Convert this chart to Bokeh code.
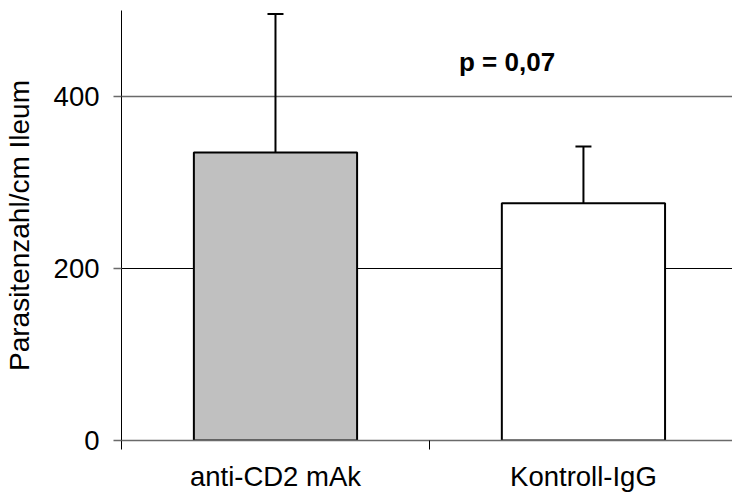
from bokeh.plotting import figure
from bokeh.models import (Range1d, FixedTicker, Grid, Label, Whisker, TeeHead,
                          ColumnDataSource, LinearAxis)
from bokeh.embed import file_html
from bokeh.resources import INLINE

categories = ["anti-CD2 mAk", "Kontroll-IgG"]
means = [335, 276]
sd_upper = [161, 66]
fills = ["#C0C0C0", "#FFFFFF"]
y_ticks = [0, 200, 400]
p_text = "p = 0,07"

xs = [i + 0.5 for i in range(len(categories))]
src = ColumnDataSource(dict(x=xs, top=means, upper=[m + s for m, s in zip(means, sd_upper)],
                            fill=fills))

FONT = "Liberation Sans"

p = figure(width=732, height=494, output_backend="svg", toolbar_location=None,
           x_range=Range1d(0, 1.984), y_range=Range1d(0, 500),
           min_border_left=120, min_border_right=0, min_border_top=10, min_border_bottom=54,
           x_axis_type=None, y_axis_type=None)
p.outline_line_color = None
p.xgrid.visible = False
p.ygrid.visible = False

# grid lines (200 dark, 400 grey)
g200 = Grid(dimension=1, ticker=FixedTicker(ticks=[y_ticks[1]]), grid_line_color="black", grid_line_width=1)
g400 = Grid(dimension=1, ticker=FixedTicker(ticks=[y_ticks[2]]), grid_line_color="#6a6a6a", grid_line_width=1.5)
p.add_layout(g200)
p.add_layout(g400)

# y axis
yax = LinearAxis(ticker=FixedTicker(ticks=y_ticks))
yax.axis_line_color = "black"
yax.axis_line_width = 1
yax.major_tick_out = 8
yax.major_tick_in = 0
yax.major_tick_line_color = "#6a6a6a"
yax.major_tick_line_width = 1.5
yax.minor_tick_line_color = None
yax.major_label_standoff = 14
yax.major_label_text_font = FONT
yax.major_label_text_font_size = "27.5px"
yax.major_label_text_color = "black"
yax.axis_label = "Parasitenzahl/cm Ileum"
yax.axis_label_text_font = FONT
yax.axis_label_text_font_size = "28px"
yax.axis_label_text_font_style = "normal"
yax.axis_label_text_color = "black"
yax.axis_label_standoff = 16
p.add_layout(yax, "left")

# x axis: labels at category centres, tick marks at category boundaries
xax = LinearAxis(ticker=FixedTicker(ticks=xs, minor_ticks=[0, 1, 2]))
xax.major_label_overrides = {x: c for x, c in zip(xs, categories)}
xax.axis_line_color = "#6a6a6a"
xax.axis_line_width = 1.5
xax.major_tick_out = 0
xax.major_tick_in = 0
xax.major_tick_line_color = None
xax.minor_tick_out = 9
xax.minor_tick_in = 0
xax.minor_tick_line_color = "black"
xax.minor_tick_line_width = 1
xax.major_label_standoff = 11
xax.major_label_text_font = FONT
xax.major_label_text_font_size = "27.5px"
xax.major_label_text_color = "black"
p.add_layout(xax, "below")

# error bars (upper only)
p.add_layout(Whisker(source=src, base="x", lower="top", upper="upper", dimension="height",
                     line_color="black", line_width=2,
                     upper_head=TeeHead(size=16, line_color="black", line_width=2),
                     lower_head=None))

# bars
p.vbar(x="x", top="top", bottom=0, width=0.53, source=src, fill_color="fill",
       line_color="black", line_width=2)

p.add_layout(Label(x=1.252, y=440, text=p_text, text_align="center", text_baseline="alphabetic",
                   text_font=FONT, text_font_size="26px", text_font_style="bold", text_color="black"))

open("out.html", "w").write(file_html(p, INLINE))
